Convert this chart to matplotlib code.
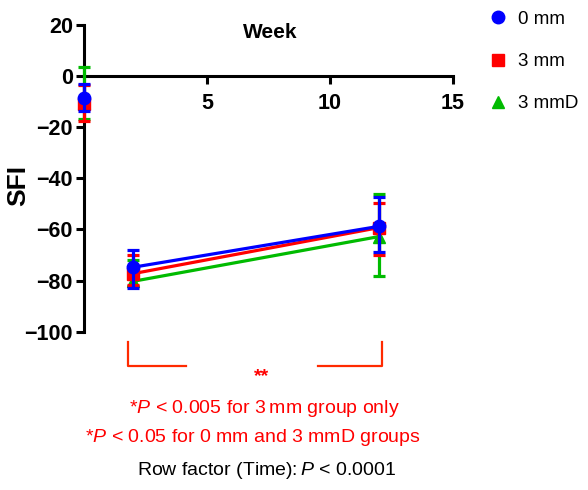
import matplotlib
matplotlib.use("Agg")
import matplotlib.pyplot as plt
from matplotlib.lines import Line2D

plt.rcParams['font.family'] = ['Liberation Sans', 'DejaVu Sans']
plt.rcParams['mathtext.fontset'] = 'custom'
plt.rcParams['mathtext.rm'] = 'Liberation Sans'
plt.rcParams['mathtext.it'] = 'Liberation Sans:italic'
plt.rcParams['mathtext.bf'] = 'Liberation Sans:bold'

weeks = [0, 2, 12]
groups = ["0 mm", "3 mm", "3 mmD"]
colors = ["#0000ff", "#ff0000", "#00bb00"]
markers = ["o", "s", "^"]
means = {
    "0 mm": [-8.6, -74.8, -58.8],
    "3 mm": [-11.0, -77.3, -59.3],
    "3 mmD": [-10.5, -80.3, -62.8],
}
err_low = {
    "0 mm": [-13.8, -83.0, -68.8],
    "3 mm": [-17.8, -81.8, -70.0],
    "3 mmD": [-17.0, -82.3, -78.2],
}
err_high = {
    "0 mm": [-3.1, -68.0, -47.5],
    "3 mm": [-3.6, -70.0, -49.5],
    "3 mmD": [3.5, -72.0, -46.3],
}
xticks = [5, 10, 15]
yticks = [20, 0, -20, -40, -60, -80, -100]

fig = plt.figure(figsize=(5.88, 4.9), dpi=100)
ax = fig.add_axes([84/588, 1 - 331.7/490, (453 - 84)/588, (331.7 - 24.7)/490])
ax.set_xlim(0, 15)
ax.set_ylim(-100, 20)

order = ["3 mmD", "3 mm", "0 mm"]
for g in order:
    i = groups.index(g)
    m = means[g]
    lo = [mm - l for mm, l in zip(m, err_low[g])]
    hi = [h - mm for mm, h in zip(m, err_high[g])]
    ms = 9 if markers[i] == "o" else 8
    z = 6 - i
    # connecting line only between week 2 and week 12
    ax.plot(weeks[1:], m[1:], color=colors[i], lw=2.3, zorder=z, clip_on=False)
    ax.errorbar(weeks, m, yerr=[lo, hi], color=colors[i], marker=markers[i],
                markersize=ms, ls='none', elinewidth=2.3,
                capsize=4.5, capthick=2.3, clip_on=False, zorder=z)

ax.spines['top'].set_visible(False)
ax.spines['right'].set_visible(False)
ax.spines['bottom'].set_position(('data', 0))
for s in ['left', 'bottom']:
    ax.spines[s].set_linewidth(2.2)
ax.set_xticks(xticks)
ax.set_yticks(yticks)
ax.set_yticklabels([str(v).replace('-', '\u2212') for v in yticks])
ax.tick_params(width=2.2, length=6, labelsize=15.5, pad=2)
ax.tick_params(axis='x', pad=6)
for lab in ax.get_xticklabels() + ax.get_yticklabels():
    lab.set_fontweight('bold')

fig.text(270/588, 1 - 33/490, "Week", ha='center', va='center',
         fontsize=15, fontweight='bold')
fig.text(18/588, 1 - 185/490, "SFI", rotation=90, ha='center', va='center',
         fontsize=19, fontweight='bold')

handles = [Line2D([], [], ls='none', marker=markers[i], color=colors[i],
                  markersize=9 if markers[i] == 'o' else 8) for i in range(3)]
fig.legend(handles, groups, loc='upper left', bbox_to_anchor=(470/588, 1 + 6/490),
           frameon=False, fontsize=13.5, handletextpad=0.45, labelspacing=1.33,
           handlelength=1.2)

red_line = "#ff2a00"
red = "#ff0000"
kw = dict(color=red_line, lw=1.6, clip_on=False)
ax.plot([1.8, 1.8, 4.15], [-104, -113.5, -113.5], **kw)
ax.plot([9.5, 12.1, 12.1], [-113.3, -113.3, -104], **kw)
ax.text(7.2, -117.5, "**", color=red, ha='center', va='center', fontsize=14, fontweight='bold')

fig.text(264/588, 1 - 408/490, "*$\\mathit{P}$ < 0.005 for 3\u2009mm group only", color=red,
         ha='center', va='center', fontsize=14)
fig.text(253/588, 1 - 437/490, "*$\\mathit{P}$ < 0.05 for 0 mm and 3 mmD groups", color=red,
         ha='center', va='center', fontsize=14)
fig.text(266/588, 1 - 470/490, "Row factor (Time):$\\,\\mathit{P}$ < 0.0001", color='black',
         ha='center', va='center', fontsize=14)

fig.savefig("out.png", dpi=100)
